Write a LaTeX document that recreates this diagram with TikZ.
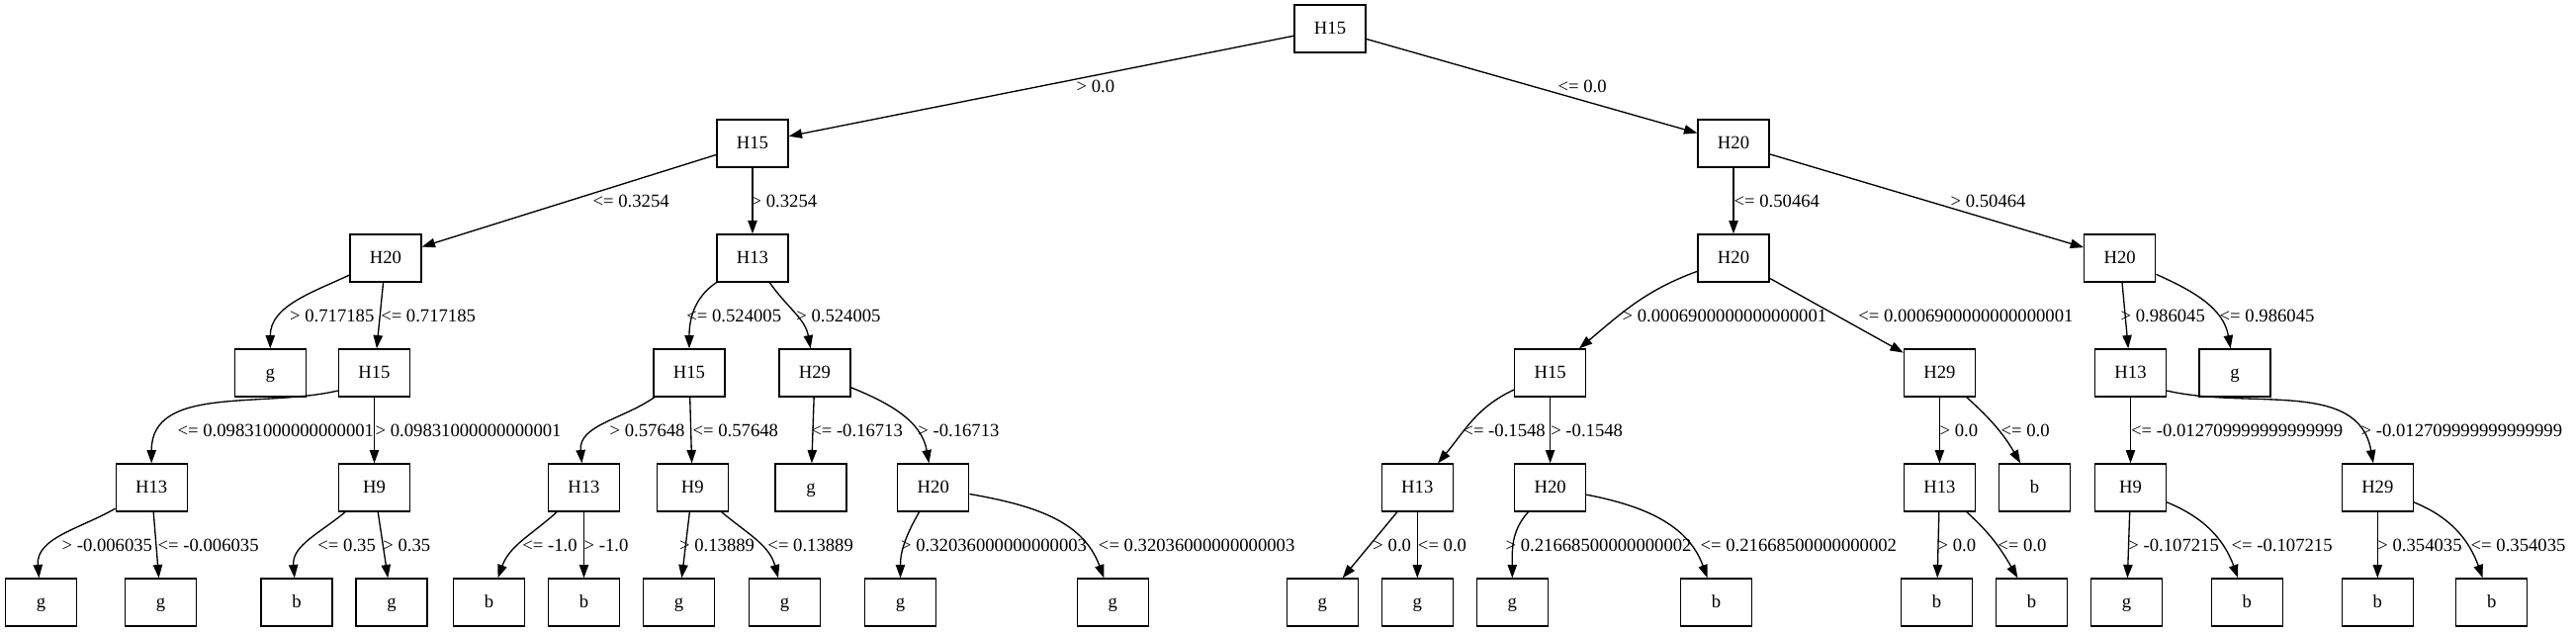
\documentclass[tikz,border=0pt]{standalone}
\usepackage{fontspec}
\setmainfont{Liberation Serif}
\usetikzlibrary{arrows.meta}

\begin{document}
\begin{tikzpicture}[
    x=0.75pt, y=0.75pt,
    font=\fontsize{14pt}{16pt}\selectfont,
    line width=1pt,
    squarenode/.style={draw, rectangle, minimum width=54pt, minimum height=36pt, inner sep=0pt, text height=8pt, text depth=0pt},
    edgelabel/.style={anchor=west, inner sep=0pt, text height=8pt, text depth=0pt},
    >={Triangle[length=10pt,width=7pt]}
    ]
    \useasboundingbox (0,0) rectangle (2605,-639);

    %Nodes
    \node[squarenode] (0A) at (1345,-29) {H15};

    \node[squarenode] (1A) at (761,-145) {H15};
    \node[squarenode] (1B) at (1753,-145) {H20};

    \node[squarenode] (2A) at (390,-261) {H20};
    \node[squarenode] (2B) at (761,-261) {H13};
    \node[squarenode] (2C) at (1753,-261) {H20};
    \node[squarenode] (2D) at (2143.7,-261) {H20};

    \node[squarenode] (3A) at (273.3,-377) {g};
    \node[squarenode] (3B) at (378.5,-377) {H15};
    \node[squarenode] (3C) at (697,-377) {H15};
    \node[squarenode] (3D) at (824,-377) {H29};
    \node[squarenode] (3E) at (1567.6,-377) {H15};
    \node[squarenode] (3F) at (1961.4,-377) {H29};
    \node[squarenode] (3G) at (2154.5,-377) {H13};
    \node[squarenode] (3H) at (2260,-377) {g};

    \node[squarenode] (4A) at (153.2,-493) {H13};
    \node[squarenode] (4B) at (378.5,-493) {H9};
    \node[squarenode] (4C) at (590.5,-493) {H13};
    \node[squarenode] (4D) at (700.3,-493) {H9};
    \node[squarenode] (4E) at (820,-493) {g};
    \node[squarenode] (4F) at (943.8,-493) {H20};
    \node[squarenode] (4G) at (1433.3,-493) {H13};
    \node[squarenode] (4H) at (1567.6,-493) {H20};
    \node[squarenode] (4I) at (1961.4,-493) {H13};
    \node[squarenode] (4J) at (2057.4,-493) {b};
    \node[squarenode] (4K) at (2154.5,-493) {H9};
    \node[squarenode] (4L) at (2404.3,-493) {H29};

    \node[squarenode] (5A) at (41.6,-609) {g};
    \node[squarenode] (5B) at (162.6,-609) {g};
    \node[squarenode] (5C) at (300,-609) {b};
    \node[squarenode] (5D) at (396,-609) {g};
    \node[squarenode] (5E) at (494.5,-609) {b};
    \node[squarenode] (5F) at (590.5,-609) {b};
    \node[squarenode] (5G) at (686.5,-609) {g};
    \node[squarenode] (5H) at (793.6,-609) {g};
    \node[squarenode] (5I) at (910.5,-609) {g};
    \node[squarenode] (5J) at (1125.3,-609) {g};
    \node[squarenode] (5K) at (1337.3,-609) {g};
    \node[squarenode] (5L) at (1433.3,-609) {g};
    \node[squarenode] (5M) at (1529.3,-609) {g};
    \node[squarenode] (5N) at (1735.6,-609) {b};
    \node[squarenode] (5O) at (1958.6,-609) {b};
    \node[squarenode] (5P) at (2054.6,-609) {b};
    \node[squarenode] (5Q) at (2150.6,-609) {g};
    \node[squarenode] (5R) at (2272.2,-609) {b};
    \node[squarenode] (5S) at (2404.3,-609) {b};
    \node[squarenode] (5T) at (2519.7,-609) {b};

    %Lines
    \draw[->] (0A) -- (1A);
    \draw[->] (0A) -- (1B);

    \draw[->] (1A) -- (2A);
    \draw[->] (1A) -- (2B);
    \draw[->] (1B) -- (2C);
    \draw[->] (1B) -- (2D);

    \draw[->] (2A) to[out=205,in=90] (3A);
    \draw[->] (2A) -- (3B);
    \draw[->] (2B) to[out=214,in=90] (3C);
    \draw[->] (2B) to[out=305,in=100] (3D);
    \draw[->] (2C) to[out=200,in=40] (3E);
    \draw[->] (2C) -- (3F);
    \draw[->] (2D) -- (3G);
    \draw[->] (2D) to[out=336,in=100] (3H);

    \draw[->] ([yshift=-13.5pt]3B.west) to[out=193,in=90] (4A);
    \draw[->] (3B) -- (4B);
    \draw[->] (3C) to[out=215,in=95] (4C);
    \draw[->] (3C) -- (4D);
    \draw[->] (3D) -- (4E);
    \draw[->] (3D) to[out=338,in=100] (4F);
    \draw[->] (3E) to[out=205,in=50] (4G);
    \draw[->] (3E) -- (4H);
    \draw[->] (3F) -- (4I);
    \draw[->] (3F) to[out=318,in=120] (4J);
    \draw[->] (3G) -- (4K);
    \draw[->] ([yshift=-13.5pt]3G.east) to[out=347,in=100] (4L);

    \draw[->] (4A) to[out=210,in=95] (5A);
    \draw[->] (4A) -- (5B);
    \draw[->] (4B) to[out=220,in=95] (5C);
    \draw[->] (4B) -- (5D);
    \draw[->] (4C) to[out=222,in=70] (5E);
    \draw[->] (4C) -- (5F);
    \draw[->] (4D) -- (5G);
    \draw[->] (4D) to[out=320,in=105] (5H);
    \draw[->] (4F) to[out=240,in=90] (5I);
    \draw[->] (4F) to[out=350,in=110] (5J);
    \draw[->] (4G) -- (5K);
    \draw[->] (4G) -- (5L);
    \draw[->] (4H) to[out=228,in=90] (5M);
    \draw[->] (4H) to[out=349,in=110] (5N);
    \draw[->] (4I) -- (5O);
    \draw[->] (4I) to[out=318,in=120] (5P);
    \draw[->] (4K) -- (5Q);
    \draw[->] (4K) to[out=338,in=110] (5R);
    \draw[->] (4L) -- (5S);
    \draw[->] (4L) to[out=338,in=110] (5T);

    %Labels
    \node[edgelabel] (1Alab) at (1088,-88) {> 0.0};
    \node[edgelabel] (1Blab) at (1575,-88) {<= 0.0};

    \node[edgelabel] (2Alab) at (599,-204) {<= 0.3254};
    \node[edgelabel] (2Blab) at (759,-204) {> 0.3254};
    \node[edgelabel] (2Clab) at (1753,-204) {<= 0.50464};
    \node[edgelabel] (2Dlab) at (1972,-204) {> 0.50464};

    \node[edgelabel] (3Alab) at (292.5,-320) {> 0.717185};
    \node[edgelabel] (3Blab) at (384.6,-320) {<= 0.717185};
    \node[edgelabel] (3Clab) at (693.7,-320) {<= 0.524005};
    \node[edgelabel] (3Dlab) at (804.7,-320) {> 0.524005};
    \node[edgelabel] (3Elab) at (1640,-320) {> 0.0006900000000000001};
    \node[edgelabel] (3Flab) at (1878.7,-320) {<= 0.0006900000000000001};
    \node[edgelabel] (3Glab) at (2144,-320) {> 0.986045};
    \node[edgelabel] (3Hlab) at (2244,-320) {<= 0.986045};

    \node[edgelabel] (4Alab) at (179,-436) {<= 0.09831000000000001};
    \node[edgelabel] (4Blab) at (379,-436) {> 0.09831000000000001};
    \node[edgelabel] (4Clab) at (616,-436) {> 0.57648};
    \node[edgelabel] (4Dlab) at (700,-436) {<= 0.57648};
    \node[edgelabel] (4Elab) at (819.6,-436) {<= -0.16713};
    \node[edgelabel] (4Flab) at (927.7,-436) {> -0.16713};
    \node[edgelabel] (4Glab) at (1478.8,-436) {<= -0.1548};
    \node[edgelabel] (4Hlab) at (1567.6,-436) {> -0.1548};
    \node[edgelabel] (4Ilab) at (1961,-436) {> 0.0};
    \node[edgelabel] (4Jlab) at (2023,-436) {<= 0.0};
    \node[edgelabel] (4Klab) at (2154.5,-436) {<= -0.012709999999999999};
    \node[edgelabel] (4Llab) at (2387,-436) {> -0.012709999999999999};

    \node[edgelabel] (5Alab) at (62,-552) {> -0.006035};
    \node[edgelabel] (5Blab) at (159,-552) {<= -0.006035};
    \node[edgelabel] (5Clab) at (320.8,-552) {<= 0.35};
    \node[edgelabel] (5Dlab) at (386.8,-552) {> 0.35};
    \node[edgelabel] (5Elab) at (527.7,-552) {<= -1.0};
    \node[edgelabel] (5Flab) at (590,-552) {> -1.0};
    \node[edgelabel] (5Glab) at (686.5,-552) {> 0.13889};
    \node[edgelabel] (5Hlab) at (775.8,-552) {<= 0.13889};
    \node[edgelabel] (5Ilab) at (910.5,-552) {> 0.32036000000000003};
    \node[edgelabel] (5Jlab) at (1110.3,-552) {<= 0.32036000000000003};
    \node[edgelabel] (5Klab) at (1387.8,-552) {> 0.0};
    \node[edgelabel] (5Llab) at (1433.3,-552) {<= 0.0};
    \node[edgelabel] (5Mlab) at (1522,-552) {> 0.21668500000000002};
    \node[edgelabel] (5Nlab) at (1719,-552) {<= 0.21668500000000002};
    \node[edgelabel] (5Olab) at (1959,-552) {> 0.0};
    \node[edgelabel] (5Plab) at (2019.7,-552) {<= 0.0};
    \node[edgelabel] (5Qlab) at (2151.8,-552) {> -0.107215};
    \node[edgelabel] (5Rlab) at (2256,-552) {<= -0.107215};
    \node[edgelabel] (5Slab) at (2403.7,-552) {> 0.354035};
    \node[edgelabel] (5Tlab) at (2498,-552) {<= 0.354035};

    \end{tikzpicture}
\end{document}
